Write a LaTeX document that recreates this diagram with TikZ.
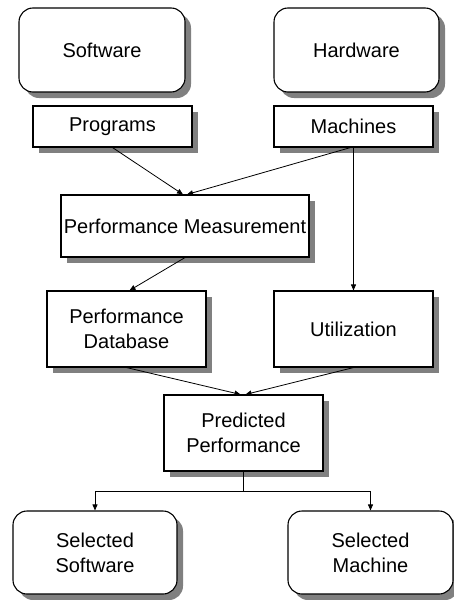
\documentclass[tikz,border=0pt]{standalone}
\usepackage{fontspec}
\setmainfont{Liberation Sans}
\usetikzlibrary{arrows.meta,shadows}
\begin{document}
\begin{tikzpicture}[x=1pt,y=-1pt,
  base/.style={draw=black,line width=1.1pt,fill=white,inner sep=0pt,align=center,
    font=\fontsize{20}{25}\selectfont,
    drop shadow={shadow xshift=6pt,shadow yshift=-6pt,fill=black!50,opacity=1}},
  roundbox/.style={base,rounded corners=14pt},
  squarebox/.style={base},
  link/.style={draw=black,line width=0.8pt,-{Triangle[length=6pt,width=5pt]}},
  plain/.style={draw=black,line width=0.8pt}]
\useasboundingbox (0,0) rectangle (454,600);

% top row: sources
\node[roundbox,minimum width=166pt,minimum height=84pt] (sw) at (102,50) {Software};
\node[roundbox,minimum width=165pt,minimum height=84pt] (hw) at (356.5,50) {Hardware};

% inputs
\node[squarebox,minimum width=159pt,minimum height=41pt] (prog) at (112.5,126.5) {Programs};
\node[squarebox,minimum width=159pt,minimum height=41pt] (mach) at (353.5,126.5) {Machines};

% processing
\node[squarebox,minimum width=248pt,minimum height=62pt] (pm) at (185,226) {Performance Measurement};
\node[squarebox,minimum width=159pt,minimum height=76pt] (pdb) at (126.5,329) {Performance\\Database};
\node[squarebox,minimum width=159pt,minimum height=76pt] (util) at (353.5,329) {Utilization};
\node[squarebox,minimum width=159pt,minimum height=76pt] (pp) at (243.5,433) {Predicted\\Performance};

% results
\node[roundbox,minimum width=164pt,minimum height=83pt] (ssw) at (95,552.5) {Selected\\Software};
\node[roundbox,minimum width=165pt,minimum height=83pt] (sm) at (370.5,552.5) {Selected\\Machine};

% connectors
\draw[link] (prog.south) -- ([xshift=-2pt]pm.north);
\draw[link] ([xshift=-3pt]mach.south) -- ([xshift=2pt]pm.north);
\draw[link] (mach.south) -- (util.north);
\draw[link] (pm.south) -- ([xshift=3pt]pdb.north);
\draw[link] (pdb.south) -- ([xshift=-3pt]pp.north);
\draw[link] (util.south) -- ([xshift=2pt]pp.north);
\coordinate (split) at (243.5,491);
\draw[plain] (pp.south) -- (split);
\draw[link] (split) -| (ssw.north);
\draw[link] (split) -| (sm.north);
\end{tikzpicture}
\end{document}
